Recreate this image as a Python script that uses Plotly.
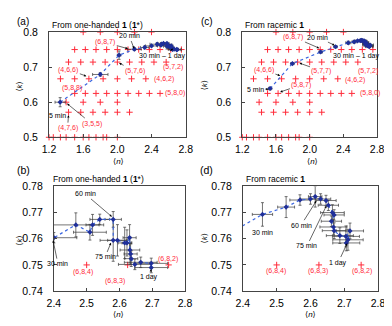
import plotly.graph_objects as go

W, H = 392, 326
OFF = 8  # page body margin offset of the plot div in the browser window

# ---------------- data ----------------
# red reference polyhedra (p,q,r): k = p/q, n = (4p - r)/q
grid_rows = [  # (p, q, list of r)
    (4, 5, [4, 5, 6, 7, 8]),
    (6, 8, [2, 3, 4, 5, 6, 7, 8, 9, 10, 11, 12]),
    (5, 7, [2, 3, 4, 5, 6, 7, 8, 9, 10]),
    (4, 6, [2, 3, 4, 5, 6, 7, 8]),
    (5, 8, [0, 1, 2, 3, 4, 5, 6, 7, 8]),
    (3, 5, [2, 3, 4, 5]),
    (4, 7, [1, 2, 3, 4, 5, 6]),
]
half_n = [1.2, 1.25, 1.333, 1.4, 1.5, 1.6, 1.667, 1.75, 1.833, 1.875, 2.0]
half_k = 0.5

ref_b_n = [2.5, 2.625, 2.75]
ref_b_k = [0.75, 0.75, 0.75]

# one-handed 1 (1*): early points (5 min .. 25 min)
oh_early_n = [1.33, 1.80, 2.02, 2.20, 2.32]
oh_early_k = [0.600, 0.679, 0.734, 0.751, 0.756]
oh_early_en = [0.06, 0.09, 0.02, 0.08, 0.05]
oh_early_ek = [0.013, 0.005, 0.012, 0.004, 0.004]
# one-handed: 30 min .. 1 day
oh_n = [2.40, 2.467, 2.51, 2.518, 2.54, 2.581, 2.581, 2.594, 2.616, 2.623, 2.631, 2.632, 2.634, 2.636, 2.647, 2.665, 2.697, 2.697]
oh_k = [0.7604, 0.7653, 0.7625, 0.7653, 0.7674, 0.7674, 0.7594, 0.7594, 0.7584, 0.7584, 0.7604, 0.7557, 0.7542, 0.7524, 0.7502, 0.7510, 0.7506, 0.7490]
oh_en = [0.07, 0.085, 0.05, 0.02, 0.03, 0.025, 0.04, 0.03, 0.02, 0.015, 0.02, 0.03, 0.02, 0.02, 0.05, 0.05, 0.05, 0.05]
oh_ek = [0.002, 0.0046, 0.003, 0.004, 0.002, 0.003, 0.008, 0.006, 0.006, 0.005, 0.005, 0.005, 0.004, 0.003, 0.002, 0.002, 0.002, 0.002]

# racemic 1: early points
rc_early_n = [1.53, 1.795, 2.13, 2.307]
rc_early_k = [0.639, 0.710, 0.743, 0.758]
rc_early_en = [0.02, 0.02, 0.02, 0.02]
rc_early_ek = [0.004, 0.003, 0.003, 0.003]
# racemic: 30 min .. 1 day
rc_n = [2.458, 2.528, 2.569, 2.600, 2.614, 2.630, 2.646, 2.653, 2.665, 2.670, 2.662, 2.668, 2.670, 2.687, 2.705, 2.717, 2.711, 2.706]
rc_k = [0.7693, 0.7721, 0.7748, 0.7752, 0.7761, 0.7752, 0.7746, 0.7728, 0.7700, 0.7691, 0.7667, 0.7645, 0.7631, 0.7612, 0.7609, 0.7630, 0.7596, 0.7584]
rc_en = [0.03, 0.025, 0.03, 0.03, 0.02, 0.03, 0.03, 0.03, 0.035, 0.03, 0.03, 0.04, 0.035, 0.04, 0.04, 0.04, 0.045, 0.04]
rc_ek = [0.0045, 0.004, 0.002, 0.002, 0.004, 0.002, 0.002, 0.002, 0.003, 0.002, 0.002, 0.003, 0.003, 0.003, 0.004, 0.003, 0.004, 0.003]

# ---------------- build ----------------
grid_n, grid_k = [], []
for p, q, rs in grid_rows:
    for r in rs:
        grid_n.append((4 * p - r) / q)
        grid_k.append(p / q)
grid_n += half_n
grid_k += [half_k] * len(half_n)

RED = "#ff2b3a"
BLUE_LINE = "#3a66e0"
BLUE_MK = "#1f2f9a"
ERR = "#3a3a3a"

fig = go.Figure()


def cross_trace(xs, ys, xa, ya):
    return go.Scatter(x=xs, y=ys, mode="markers", xaxis=xa, yaxis=ya, cliponaxis=False,
                      marker=dict(symbol="cross-thin", size=4.5, line=dict(color=RED, width=1)),
                      hoverinfo="skip", showlegend=False)


def traj_trace(xs, ys, ex, ey, xa, ya):
    return go.Scatter(x=xs, y=ys, mode="lines+markers", xaxis=xa, yaxis=ya,
                      line=dict(color=BLUE_LINE, width=1.2, dash="dot"),
                      marker=dict(symbol="diamond", size=4, color=BLUE_MK),
                      error_x=dict(type="data", array=ex, color=ERR, thickness=0.7, width=1.5),
                      error_y=dict(type="data", array=ey, color=ERR, thickness=0.7, width=1.5),
                      showlegend=False)


oh_all_n = oh_early_n + oh_n
oh_all_k = oh_early_k + oh_k
oh_all_en = oh_early_en + oh_en
oh_all_ek = oh_early_ek + oh_ek
rc_all_n = rc_early_n + rc_n
rc_all_k = rc_early_k + rc_k
rc_all_en = rc_early_en + rc_en
rc_all_ek = rc_early_ek + rc_ek

# (a)
fig.add_trace(cross_trace(grid_n, grid_k, "x", "y"))
fig.add_trace(traj_trace(oh_all_n, oh_all_k, oh_all_en, oh_all_ek, "x", "y"))
# (c)
fig.add_trace(cross_trace(grid_n, grid_k, "x2", "y2"))
fig.add_trace(traj_trace(rc_all_n, rc_all_k, rc_all_en, rc_all_ek, "x2", "y2"))
# (b)
fig.add_trace(cross_trace(ref_b_n, ref_b_k, "x3", "y3"))
fig.add_trace(traj_trace(oh_all_n, oh_all_k, oh_all_en, oh_all_ek, "x3", "y3"))
# (d)
fig.add_trace(cross_trace(ref_b_n, ref_b_k, "x4", "y4"))
fig.add_trace(traj_trace(rc_all_n, rc_all_k, rc_all_en, rc_all_ek, "x4", "y4"))


def dom(a, b):
    return [(a - OFF) / W, (b - OFF) / W]


def ydom(top, bottom):
    return [1 - (bottom - OFF) / H, 1 - (top - OFF) / H]


base = dict(showline=True, linecolor="#444", linewidth=1, mirror=True, ticks="inside", ticklen=3,
            tickcolor="#444", showgrid=False, zeroline=False,
            tickfont=dict(size=10.5, color="black", family="Arial"))

xa_big = dict(base, range=[1.2, 2.8], tickvals=[1.2, 1.6, 2.0, 2.4, 2.8], tickformat=".1f",
              ticklabelstandoff=2)
ya_big = dict(base, range=[0.5, 0.8], tickvals=[0.5, 0.6, 0.7, 0.8], tickformat=".1f",
              ticklabelstandoff=8)
xa_small = dict(base, range=[2.4, 2.8], tickvals=[2.4, 2.5, 2.6, 2.7, 2.8], tickformat=".1f",
                ticklabelstandoff=2)
ya_small = dict(base, range=[0.74, 0.78], tickvals=[0.74, 0.75, 0.76, 0.77, 0.78], tickformat=".2f",
                ticklabelstandoff=8)

fig.update_layout(
    width=W, height=H, margin=dict(l=0, r=0, t=0, b=0),
    paper_bgcolor="white", plot_bgcolor="white", showlegend=False,
    font=dict(family="Arial, DejaVu Sans", color="black"),
    xaxis=dict(xa_big, domain=dom(43.3, 185), anchor="y"),
    yaxis=dict(ya_big, domain=ydom(26.7, 136), anchor="x"),
    xaxis2=dict(xa_big, domain=dom(243.7, 383.5), anchor="y2"),
    yaxis2=dict(ya_big, domain=ydom(26.7, 136), anchor="x2"),
    xaxis3=dict(xa_small, domain=dom(48.3, 184.3), anchor="y3"),
    yaxis3=dict(ya_small, domain=ydom(187, 295.7), anchor="x3"),
    xaxis4=dict(xa_small, domain=dom(244.3, 384.5), anchor="y4"),
    yaxis4=dict(ya_small, domain=ydom(187, 295.7), anchor="x4"),
)

ann = []


def P(x, y):
    return (x - OFF) / W, 1 - (y - OFF) / H


def text(t, x, y, size=7, color="black", xanchor="center", yanchor="middle", angle=0):
    px, py = P(x, y)
    ann.append(dict(text=t, x=px, y=py, xref="paper", yref="paper", showarrow=False,
                    xanchor=xanchor, yanchor=yanchor, textangle=angle,
                    font=dict(size=size, color=color, family="Arial, DejaVu Sans")))


def arrow(t, tx, ty, hx, hy, size=7, color="black"):
    px, py = P(hx, hy)
    ann.append(dict(text=t, x=px, y=py, xref="paper", yref="paper", showarrow=True,
                    ax=tx - hx, ay=ty - hy, arrowhead=2, arrowsize=0.8, arrowwidth=0.6,
                    arrowcolor="black", standoff=0,
                    font=dict(size=size, color=color, family="Arial, DejaVu Sans")))


# panel letters & titles
text("(a)", 8, 7.5, size=10, xanchor="left", yanchor="top")
text("(c)", 198.5, 7.5, size=10, xanchor="left", yanchor="top")
text("(b)", 8, 170, size=10.5, xanchor="left")
text("(d)", 198, 170, size=10.5, xanchor="left")
text("From one-handed <b>1</b> (<b>1</b>*)", 44, 19.5, size=8.5, xanchor="left")
text("From racemic <b>1</b>", 244.5, 19.5, size=8.5, xanchor="left")
text("From one-handed <b>1</b> (<b>1</b>*)", 45, 179, size=8.5, xanchor="left")
text("From racemic <b>1</b>", 245.5, 179, size=8.5, xanchor="left")

# axis titles
KT = "⟨<i>k</i>⟩"
NT = "⟨<i>n</i>⟩"
text(KT, 12.5, 83, size=8, angle=-90)
text(KT, 204, 82, size=8, angle=-90)
text(KT, 12.5, 243, size=8, angle=-90)
text(KT, 204, 241, size=8, angle=-90)
text(NT, 115, 161.5, size=8)
text(NT, 316, 161.5, size=8)
text(NT, 115, 320.5, size=8)
text(NT, 314.5, 320.5, size=8)

# panel (a) annotations
arrow("(6,8,7)", 102.5, 37.7, 125, 44, color=RED)
arrow("(4,6,6)", 64, 66, 82, 72.5, color=RED)
text("(5,8,8)", 66.7, 84.7, color=RED)
arrow("(5,7,6)", 131.7, 66.7, 116, 59, color=RED)
text("(4,6,2)", 162.5, 75, color=RED)
text("(5,7,2)", 172.3, 63.3, color=RED)
text("(5,8,0)", 174, 90, color=RED)
arrow("(3,5,5)", 86.5, 121, 62, 101, color=RED)
arrow("(4,7,6)", 62.5, 126, 63.5, 113, color=RED)
text("5 min", 51.7, 113.3)
arrow("20 min", 126.7, 31.3, 131.5, 44)
arrow("30 min – 1 day", 161, 51.7, 172, 44)

# panel (c) annotations
arrow("20 min", 322.2, 32.3, 339.5, 40.5)
text("30 min – 1 day", 362, 51.7)
arrow("5 min", 257.5, 86, 271, 86)
arrow("(6,8,7)", 297.7, 32.3, 323.5, 43.5, color=RED)
arrow("(4,6,6)", 266.7, 66.7, 283, 72, color=RED)
arrow("(5,7,7)", 325, 66.7, 303, 59, color=RED)
arrow("(5,8,7)", 304.3, 81.7, 283, 89, color=RED)
text("(4,6,2)", 360.8, 76.7, color=RED)
text("(5,7,2)", 374.3, 66.7, color=RED)
text("(5,8,0)", 375.7, 90, color=RED)

# panel (b) annotations
arrow("60 min", 81.7, 195.7, 108.5, 218.5)
arrow("75 min", 101.7, 259.7, 107.5, 245.5)
arrow("30 min", 52.3, 266.3, 47.5, 243)
arrow("1 day", 147.5, 280.3, 149.3, 273)
text("(6,8,4)", 79, 275.7, color=RED)
text("(6,8,3)", 111.7, 284.7, color=RED)
text("(6,8,2)", 166.7, 262, color=RED)

# panel (d) annotations
text("30 min", 264.3, 234.7)
arrow("60 min", 305.2, 226.3, 320.5, 202)
arrow("75 min", 311.5, 247.3, 331, 207)
arrow("1 day", 343.5, 265.3, 352.5, 246)
text("(6,8,4)", 278.5, 275.3, color=RED)
text("(6,8,3)", 322.7, 275.3, color=RED)
text("(6,8,2)", 367.7, 275.3, color=RED)

fig.update_layout(annotations=ann)
fig.write_html("out.html")
